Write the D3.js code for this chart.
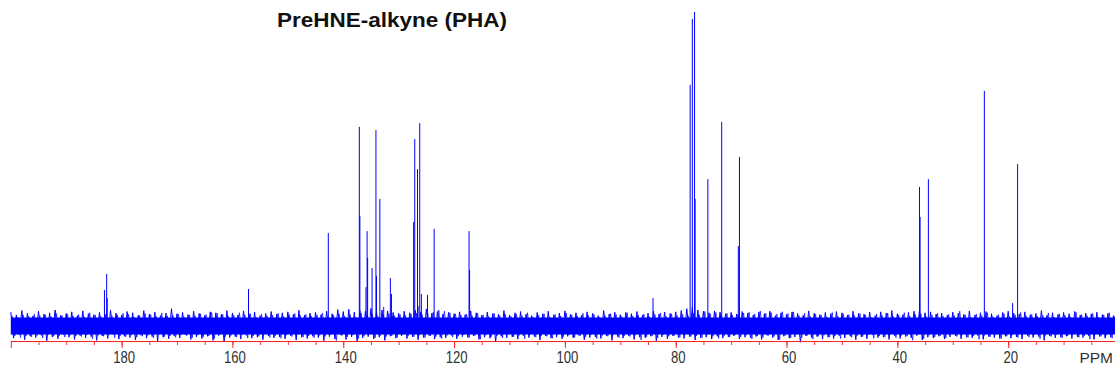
<!DOCTYPE html>
<html>
<head>
<meta charset="utf-8">
<script src="https://cdn.jsdelivr.net/npm/d3@7"></script>
<style>
  body { margin: 0; background: #fff; }
  svg { display: block; }
</style>
</head>
<body>
<div id="chart"></div>
<script>
// 13C spectrum: peak positions (ppm) and heights (relative, tallest = 100)
const peakPpm = [182.7, 183.1, 182.6, 157.1, 142.7, 137.1, 137.0, 135.7, 135.6, 135.9,
  134.8, 134.1, 134.0, 133.4, 132.7, 131.5, 131.3, 127.3, 127.1, 126.6, 126.5, 126.2,
  125.9, 124.8, 123.6, 117.3, 117.2, 84.1, 77.4, 77.0, 76.6, 76.5, 74.2, 71.7, 68.5,
  68.7, 36.0, 35.9, 34.4, 24.3, 18.3, 19.2];
const peakHeight = [16.3, 11.2, 8.6, 11.5, 29.4, 63.3, 34.8, 30.0, 21.4, 12.1,
  18.2, 62.3, 15.7, 40.3, 5.8, 15.0, 9.9, 32.9, 59.4, 49.8, 6.0, 64.5,
  9.9, 9.6, 30.7, 30.0, 17.6, 8.6, 76.7, 97.8, 100, 40.3, 46.6, 64.9, 53.7,
  25.2, 44.1, 34.5, 46.6, 74.8, 51.4, 7.0];

// baseline noise envelope, one value per ppm from 200 down to 0
const noiseHi = [
  4.1, 3.2, 4.6, 3.8, 2.9, 4.4, 3.5, 3.9, 4.8, 3.1,
  3.7, 4.2, 3.0, 4.5, 3.6, 3.3, 4.0, 3.4, 4.7, 3.8,
  3.2, 4.3, 3.9, 3.1, 4.6, 3.5, 4.1, 3.0, 3.8, 5.2,
  3.6, 4.0, 3.3, 4.4, 3.7, 3.1, 4.2, 3.9, 3.4, 4.6,
  3.8, 3.2, 4.5, 3.6, 4.1, 3.0, 3.7, 4.3, 3.5, 3.9,
  4.2, 3.4, 4.7, 3.1, 3.8, 4.0, 3.3, 4.4, 3.6, 4.9,
  4.3, 5.0, 4.1, 4.6, 4.4, 5.3, 4.2, 4.8, 4.5, 4.0,
  3.7, 4.4, 3.9, 4.7, 4.2, 5.1, 3.8, 4.3, 3.5, 4.0,
  3.6, 4.2, 3.3, 4.5, 3.9, 3.1, 4.1, 3.7, 3.4, 4.6,
  3.2, 3.9, 4.3, 3.5, 3.0, 4.0, 3.6, 4.4, 3.3, 3.8,
  4.5, 3.4, 3.9, 3.1, 4.2, 3.7, 3.0, 4.6, 3.5, 4.1,
  3.3, 4.0, 3.6, 4.3, 3.2, 3.8, 4.4, 3.5, 4.1, 3.7,
  4.2, 4.6, 5.2, 5.6, 4.8, 4.4, 3.9, 4.5, 4.1, 3.6,
  4.0, 3.5, 4.3, 3.8, 3.2, 4.1, 3.6, 4.4, 3.0, 3.9,
  3.4, 4.2, 3.7, 3.1, 4.5, 3.8, 3.3, 4.0, 3.6, 4.3,
  3.9, 3.2, 4.4, 3.7, 3.5, 4.1, 3.0, 4.2, 3.8, 4.6,
  3.6, 3.3, 4.0, 4.4, 4.7, 3.9, 4.2, 3.5, 3.8, 3.1,
  4.1, 3.7, 3.4, 4.5, 3.2, 3.9, 4.3, 3.6, 3.0, 4.0,
  4.4, 3.8, 3.5, 4.2, 3.3, 3.7, 4.6, 3.1, 3.9, 3.4,
  4.0, 3.6, 4.3, 3.2, 3.8, 3.5, 4.1, 3.3, 3.7, 3.0,
  3.5];
const noiseLo = [
  -4.2, -3.1, -4.7, -3.6, -4.0, -3.3, -5.0, -3.8, -4.4, -3.2,
  -3.9, -4.6, -3.4, -4.1, -3.7, -4.9, -3.5, -4.3, -3.0, -4.5,
  -3.6, -4.0, -4.8, -3.3, -4.2, -3.7, -5.1, -3.9, -4.4, -3.5,
  -4.1, -3.2, -4.6, -3.8, -4.3, -3.6, -4.9, -3.4, -5.4, -4.0,
  -3.7, -4.5, -3.3, -4.2, -3.9, -4.7, -3.5, -4.1, -3.8, -4.4,
  -3.4, -4.8, -3.9, -4.3, -3.6, -4.0, -5.0, -3.7, -4.5, -3.2,
  -4.6, -3.8, -5.2, -4.1, -3.7, -4.4, -3.9, -4.9, -3.6, -4.2,
  -3.5, -4.3, -3.8, -4.7, -4.0, -3.4, -4.5, -3.9, -4.1, -3.3,
  -4.4, -3.7, -4.0, -3.5, -4.6, -3.9, -4.2, -5.3, -3.6, -4.1,
  -3.8, -4.5, -3.4, -4.0, -3.7, -4.8, -3.5, -4.2, -3.9, -4.4,
  -3.6, -4.1, -3.3, -4.7, -4.0, -3.8, -4.3, -3.5, -4.9, -3.7,
  -4.2, -3.4, -4.6, -3.9, -4.1, -3.6, -5.0, -3.8, -4.4, -3.5,
  -4.0, -4.3, -3.7, -4.8, -4.1, -3.9, -4.5, -3.6, -4.2, -3.8,
  -3.5, -4.4, -3.9, -4.1, -3.7, -4.6, -3.3, -4.0, -4.8, -3.6,
  -4.2, -3.8, -5.5, -3.5, -4.0, -3.7, -4.5, -3.9, -4.3, -3.4,
  -4.1, -3.6, -4.7, -3.8, -4.4, -3.2, -4.0, -3.9, -4.6, -3.5,
  -4.3, -3.7, -4.1, -3.4, -4.8, -3.9, -4.2, -3.6, -4.5, -3.8,
  -3.5, -4.4, -3.9, -4.1, -3.3, -4.6, -3.7, -4.0, -4.3, -3.6,
  -4.2, -3.8, -4.5, -3.4, -4.0, -3.7, -4.9, -3.5, -4.1, -3.9,
  -3.6, -4.3, -3.8, -4.0, -3.4, -4.6, -3.7, -4.2, -3.9, -4.4,
  -3.8];
const noiseCore = [-3.0, 2.4];

const majorTicks = [200, 180, 160, 140, 120, 100, 80, 60, 40, 20];
const minorTicks = d3.range(195, 0, -5);

const width = 1115, height = 373;
const svg = d3.select("#chart").append("svg")
  .attr("width", width)
  .attr("height", height);

const x = d3.scaleLinear().domain([200, 0]).range([10.8, 1119]);
const y = d3.scaleLinear().domain([0, 100]).range([325, 12]);
const axisY = 341;
const font = "'Liberation Sans', Arial, sans-serif";

// title
svg.append("text")
  .attr("x", 277)
  .attr("y", 26.5)
  .attr("textLength", 230)
  .attr("lengthAdjust", "spacingAndGlyphs")
  .style("font-family", font)
  .style("font-weight", "bold")
  .style("font-size", "20px")
  .style("fill", "#111")
  .text("PreHNE-alkyne (PHA)");

// baseline noise: solid core plus two interleaved zigzags
const ppmGrid = d3.range(200, -1, -1);
svg.append("path")
  .datum(ppmGrid)
  .attr("fill", "#0000ff")
  .attr("d", d3.area()
    .x(d => x(d))
    .y0(y(noiseCore[0]))
    .y1(y(noiseCore[1])));

const line = d3.line().x(d => x(d[0])).y(d => y(d[1]));
const zigA = [], zigB = [];
const n = ppmGrid.length;
ppmGrid.forEach((p, i) => {
  zigA.push([p, noiseHi[i]]);
  zigA.push([p - 0.5, noiseLo[i]]);
  zigB.push([p - 0.25, noiseHi[n - 1 - i] * 0.85]);
  zigB.push([p - 0.75, noiseLo[n - 1 - i] * 0.9]);
});
svg.append("path")
  .datum(zigA)
  .attr("fill", "none")
  .attr("stroke", "#0000ff")
  .attr("stroke-width", 1)
  .attr("d", line);
svg.append("path")
  .datum(zigB)
  .attr("fill", "none")
  .attr("stroke", "#0000ff")
  .attr("stroke-opacity", 0.7)
  .attr("stroke-width", 1)
  .attr("d", line);

// peaks
svg.selectAll(".peak")
  .data(peakPpm.map((p, i) => ({ppm: p, h: peakHeight[i]})))
  .enter().append("line")
  .attr("class", "peak")
  .attr("x1", d => x(d.ppm))
  .attr("x2", d => x(d.ppm))
  .attr("y1", y(0))
  .attr("y2", d => y(d.h))
  .attr("stroke", "#0000ff")
  .attr("stroke-width", 1);

// axis
const gMinor = svg.append("g")
  .attr("transform", `translate(0,${axisY})`)
  .call(d3.axisBottom(x).tickValues(minorTicks).tickSize(4).tickSizeOuter(0).tickFormat(""));
gMinor.select(".domain").remove();
gMinor.selectAll("line").attr("stroke", "#ff3030");

const gMajor = svg.append("g")
  .attr("transform", `translate(0,${axisY})`)
  .call(d3.axisBottom(x).tickValues(majorTicks).tickSize(7).tickSizeOuter(0)
    .tickFormat(d => d === 200 ? "" : d));
gMajor.select(".domain").attr("stroke", "#ff2020");
gMajor.selectAll("line").attr("stroke", "#ff2020");
gMajor.selectAll("text")
  .attr("y", 21.5)
  .attr("dy", 0)
  .attr("dx", 2)
  .attr("textLength", d => String(d).length * 7.3)
  .attr("lengthAdjust", "spacingAndGlyphs")
  .style("font-family", font)
  .style("font-size", "16px")
  .style("fill", "#333");

svg.append("text")
  .attr("x", 1113)
  .attr("y", 362.5)
  .attr("text-anchor", "end")
  .style("font-family", font)
  .style("font-size", "15.5px")
  .style("fill", "#333")
  .text("PPM");
</script>
</body>
</html>
